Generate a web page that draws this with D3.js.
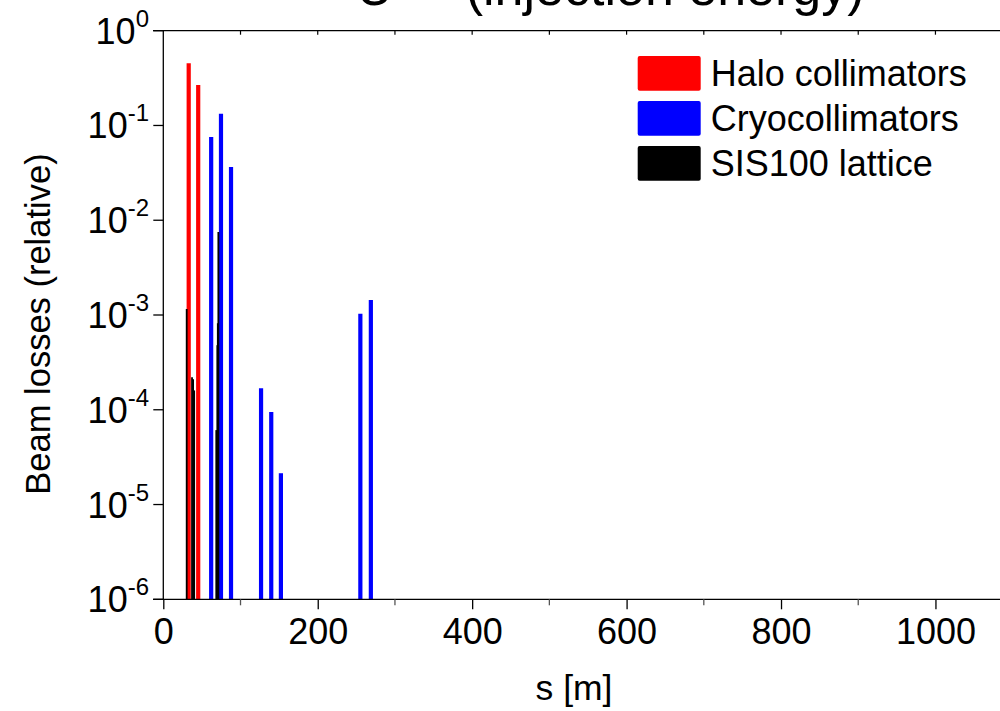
<!DOCTYPE html>
<html>
<head>
<meta charset="utf-8">
<script src="https://cdn.jsdelivr.net/npm/d3@7"></script>
<style>
  html, body { margin: 0; padding: 0; background: #fff; }
  svg { display: block; font-family: "Liberation Sans", Arial, sans-serif; }
</style>
</head>
<body>
<svg id="chart" width="1000" height="711"></svg>
<script>
// Beam loss distribution along the SIS100 ring (s in metres, losses relative)
const haloS = [32.9, 45.2];
const haloLoss = [0.454, 0.268];

const cryoS = [62.0, 74.7, 87.7, 126.6, 139.8, 152.3, 255.2, 268.8];
const cryoLoss = [0.0755, 0.133, 0.0365, 1.69e-4, 9.5e-5, 2.14e-5, 1.03e-3, 1.44e-3];

const latticeS = [30.3, 37.2, 38.6, 40.0, 68.6, 70.0, 70.6, 71.3];
const latticeLoss = [1.16e-3, 2.2e-4, 2.1e-4, 1.6e-4, 6.1e-5, 4.8e-4, 8.2e-4, 7.5e-3];

const xTickValues = [0, 200, 400, 600, 800, 1000];
const xMinorValues = [100, 300, 500, 700, 900];
const yTickExponents = [0, -1, -2, -3, -4, -5, -6];

const legendLabels = ["Halo collimators", "Cryocollimators", "SIS100 lattice"];
const legendColors = ["#ff0000", "#0000ff", "#000000"];

const svg = d3.select("#chart");

const plotLeft = 163.3, plotRight = 1000, plotTop = 30.7, plotBottom = 599.3;
const x = d3.scaleLinear().domain([0, 1083.6]).range([plotLeft, plotRight]);
const y = d3.scaleLog().domain([1e-6, 1]).range([plotBottom, plotTop]);

// Title (sits mostly above the top edge of the page)
const title = svg.append("text")
  .attr("x", 356).attr("y", 5)
  .attr("font-size", 52).attr("fill", "#000");
title.append("tspan").text("U");
title.append("tspan").attr("font-size", 34).attr("dy", -20).text("28+");
title.append("tspan").attr("dy", 20).text(" (injection energy)");

// Bars (drawn as thick vertical lines from the axis floor)
function drawSeries(sArr, vArr, color, width, cls) {
  const rows = sArr.map((s, i) => ({ s, v: vArr[i] }));
  svg.append("g").attr("class", cls)
    .selectAll("line").data(rows).join("line")
    .attr("x1", d => x(d.s)).attr("x2", d => x(d.s))
    .attr("y1", y(1e-6)).attr("y2", d => y(d.v))
    .attr("stroke", color).attr("stroke-width", width);
}
drawSeries(haloS, haloLoss, "#ff0000", 4.2, "halo");
drawSeries(cryoS, cryoLoss, "#0000ff", 4.2, "cryo");
drawSeries(latticeS, latticeLoss, "#000000", 1.8, "lattice");

// Bottom axis
const gx = svg.append("g").attr("transform", `translate(0,${plotBottom})`);
gx.append("line").attr("x1", 153).attr("x2", plotRight).attr("stroke", "#000").attr("stroke-width", 1.3);
gx.call(g => {
  const ax = d3.axisBottom(x).tickValues(xTickValues).tickSize(10).tickFormat(d3.format("d"));
  g.call(ax);
  g.select(".domain").remove();
  g.selectAll(".tick line").attr("stroke", "#000").attr("stroke-width", 1.3);
  g.selectAll(".tick text").attr("font-size", 36).attr("font-family", "Liberation Sans, Arial, sans-serif")
    .attr("fill", "#000").attr("y", 19).attr("dy", "0.71em");
});
gx.selectAll(".minor").data(xMinorValues).join("line").attr("class", "minor")
  .attr("x1", d => x(d)).attr("x2", d => x(d)).attr("y1", 0).attr("y2", 6)
  .attr("stroke", "#555").attr("stroke-width", 1.3);

// Top frame with inward ticks
const gt = svg.append("g").attr("transform", `translate(0,${plotTop})`);
gt.append("line").attr("x1", 153).attr("x2", plotRight).attr("stroke", "#000").attr("stroke-width", 1.3);
gt.selectAll(".tt").data(d3.range(100, 1001, 100)).join("line").attr("class", "tt")
  .attr("x1", d => x(d)).attr("x2", d => x(d)).attr("y1", 0).attr("y2", 4)
  .attr("stroke", "#000").attr("stroke-width", 1.2);

// Left axis with decade labels
const gy = svg.append("g");
gy.append("line").attr("x1", plotLeft).attr("x2", plotLeft).attr("y1", plotTop).attr("y2", plotBottom)
  .attr("stroke", "#000").attr("stroke-width", 1.3);
const yt = gy.selectAll(".ytick").data(yTickExponents).join("g").attr("class", "ytick")
  .attr("transform", e => `translate(0,${y(Math.pow(10, e))})`);
yt.append("line").attr("x1", plotLeft - 10).attr("x2", plotLeft).attr("stroke", "#000").attr("stroke-width", 1.3);
const ylab = yt.append("text").attr("x", 149).attr("y", 13)
  .attr("text-anchor", "end").attr("font-size", 36).attr("fill", "#000");
ylab.append("tspan").text("10");
ylab.append("tspan").attr("font-size", 24).attr("dy", -17).text(e => String(e));

// Axis titles
svg.append("text").attr("x", 574).attr("y", 700).attr("text-anchor", "middle")
  .attr("font-size", 35.5).attr("fill", "#000").text("s [m]");
svg.append("text").attr("transform", "translate(50,324) rotate(-90)").attr("text-anchor", "middle")
  .attr("font-size", 34.5).attr("fill", "#000").text("Beam losses (relative)");

// Legend
const lg = svg.append("g").attr("transform", "translate(637.7,56)");
const legendRows = lg.selectAll("g").data(legendLabels).join("g")
  .attr("transform", (d, i) => `translate(0,${i * 45})`);
legendRows.append("rect").attr("width", 63).attr("height", 34.7).attr("rx", 2)
  .attr("fill", (d, i) => legendColors[i]);
legendRows.append("text").attr("x", 73).attr("y", 30).attr("font-size", 36).attr("fill", "#000").text(d => d);
</script>
</body>
</html>
